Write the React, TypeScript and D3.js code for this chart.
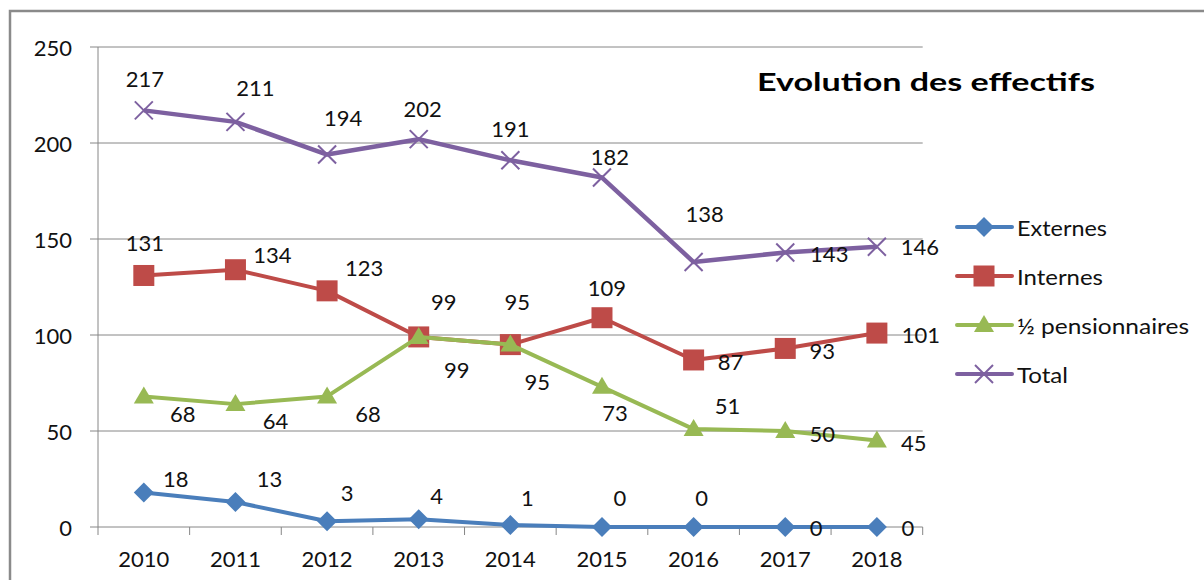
import React from "react";
import * as d3 from "d3";

const years = ["2010", "2011", "2012", "2013", "2014", "2015", "2016", "2017", "2018"];
const externes = [18, 13, 3, 4, 1, 0, 0, 0, 0];
const internes = [131, 134, 123, 99, 95, 109, 87, 93, 101];
const demiPension = [68, 64, 68, 99, 95, 73, 51, 50, 45];
const total = [217, 211, 194, 202, 191, 182, 138, 143, 146];
const yTicks = [0, 50, 100, 150, 200, 250];
const seriesNames = ["Externes", "Internes", "½ pensionnaires", "Total"];
const title = "Evolution des effectifs";

// label offsets (layout), relative to the point, per series
const labelOffsets: [number, number][][] = [
  [[32, -14], [34, -24], [20, -29], [18, -24], [17, -28], [18, -30], [8, -30], [31, 0], [31, 0]],
  [[1, -33], [37, -15], [37, -23], [25, -35], [7, -43], [5, -30], [37, 2], [37, 2], [44, 1]],
  [[39, 17], [40, 16], [41, 17], [38, 33], [27, 37], [13, 26], [34, -24], [37, 2], [37, 2]],
  [[1, -32], [20, -34], [16, -37], [4, -31], [0, -32], [8, -21], [11, -49], [44, 1], [43, 0]],
];
// legend text widths (layout)
const legendWidths = [90, 86, 172, 51];

const colors = ["#4A7EBB", "#BE4B48", "#98B954", "#7D60A0"];
const FONT = "Lato, 'Open Sans', sans-serif";

function Marker({ type, x, y, color }: { type: number; x: number; y: number; color: string }) {
  if (type === 0) {
    const r = 10;
    return <path d={`M${x},${y - r}L${x + r},${y}L${x},${y + r}L${x - r},${y}Z`} fill={color} />;
  }
  if (type === 1) {
    const s = 21;
    return <rect x={x - s / 2} y={y - s / 2} width={s} height={s} fill={color} />;
  }
  if (type === 2) {
    return <path d={`M${x},${y - 10}L${x + 10},${y + 7}L${x - 10},${y + 7}Z`} fill={color} />;
  }
  const r = 9;
  return (
    <g stroke={color} strokeWidth={2}>
      <line x1={x - r} y1={y - r} x2={x + r} y2={y + r} />
      <line x1={x - r} y1={y + r} x2={x + r} y2={y - r} />
    </g>
  );
}

export default function App() {
  const W = 1204, H = 580;
  const left = 98, right = 922.7, top = 47, bottom = 527;
  const x = d3.scaleBand<string>().domain(years).range([left, right]);
  const y = d3.scaleLinear().domain([0, 250]).range([bottom, top]);
  const cx = (yr: string) => (x(yr) as number) + x.bandwidth() / 2;
  const all = [externes, internes, demiPension, total];
  const line = d3
    .line<number>()
    .x((_, i) => cx(years[i]))
    .y((v) => y(v));
  const grid = "#868686";
  const boundaries = d3.range(years.length + 1).map((i) => left + i * x.bandwidth());

  return (
    <svg width={W} height={H} style={{ position: "absolute", left: 0, top: 0, background: "#fff" }} fontFamily={FONT}>
      <rect x={0} y={0} width={W} height={H} fill="#fff" />
      <rect x={10} y={11} width={W + 20} height={H + 20} fill="none" stroke="#8a8a8a" strokeWidth={2.5} />
      {yTicks.map((t) => (
        <g key={t}>
          <line x1={left - 8} x2={right} y1={y(t)} y2={y(t)} stroke={grid} strokeWidth={1} />
          <text x={72} y={y(t)} textAnchor="end" dominantBaseline="central" fontSize={22} fill="#111">
            {t}
          </text>
        </g>
      ))}
      <line x1={left} x2={left} y1={top} y2={bottom} stroke={grid} strokeWidth={1} />
      {boundaries.map((b, i) => (
        <line key={i} x1={b} x2={b} y1={bottom} y2={bottom + 8} stroke={grid} strokeWidth={1} />
      ))}
      {years.map((yr) => (
        <text key={yr} x={cx(yr)} y={558} textAnchor="middle" dominantBaseline="central" fontSize={22} fill="#111">
          {yr}
        </text>
      ))}
      {all.map((s, si) => (
        <g key={si}>
          <path d={line(s) || ""} fill="none" stroke={colors[si]} strokeWidth={si === 3 ? 4.5 : 4} strokeLinejoin="round" />
          {s.map((v, i) => (
            <Marker key={i} type={si} x={cx(years[i])} y={y(v)} color={colors[si]} />
          ))}
        </g>
      ))}
      {all.map((s, si) =>
        s.map((v, i) => (
          <text
            key={`${si}-${i}`}
            x={cx(years[i]) + labelOffsets[si][i][0]}
            y={y(v) + labelOffsets[si][i][1]}
            textAnchor="middle"
            dominantBaseline="central"
            fontSize={22}
            fill="#111"
          >
            {v}
          </text>
        ))
      )}
      <text x={757} y={91} fontSize={25} fontWeight="bold" fill="#000" textLength={338} lengthAdjust="spacingAndGlyphs">
        {title}
      </text>
      {seriesNames.map((n, si) => {
        const ly = 227 + si * 49;
        return (
          <g key={n}>
            <line x1={957} x2={1012} y1={ly} y2={ly} stroke={colors[si]} strokeWidth={4} strokeLinecap="round" />
            <Marker type={si} x={984} y={ly} color={colors[si]} />
            <text
              x={1017}
              y={ly}
              dominantBaseline="central"
              fontSize={22}
              fill="#111"
              textLength={legendWidths[si]}
              lengthAdjust="spacingAndGlyphs"
            >
              {n}
            </text>
          </g>
        );
      })}
    </svg>
  );
}
